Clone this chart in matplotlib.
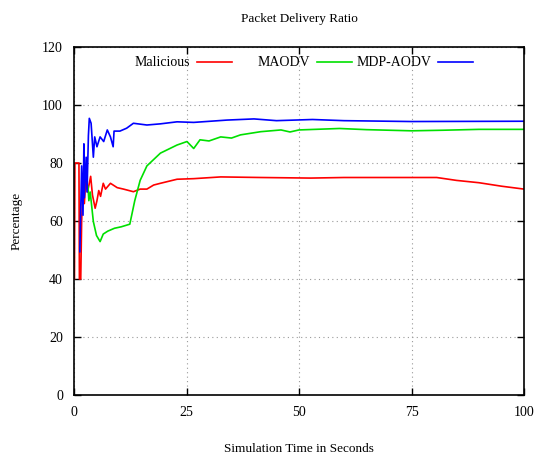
import matplotlib.pyplot as plt
from matplotlib.lines import Line2D

plt.rcParams['font.family'] = ['Liberation Serif', 'DejaVu Serif']

# Malicious (red)
t_mal = [0.1, 0.2, 1.1, 1.2, 1.5, 1.7, 2.0, 2.3, 2.6, 3.0, 3.4, 3.7, 4.1, 4.7, 5.1, 5.5, 5.9, 6.5,
         7.0, 8.1, 9.6, 11.0, 13.2, 14.7, 16.2, 17.7, 19.2, 22.9, 26.6, 32.6, 41.5, 52.6, 60,
         70, 80.6, 85, 90, 95, 100]
v_mal = [40, 80, 80, 40, 40, 60, 72, 66, 74, 70, 73, 75.4, 69, 64.4, 67, 70.5, 68.5, 73,
         71, 73, 71.5, 71, 70.1, 71, 71, 72.4, 73, 74.4, 74.6, 75.2, 75.0, 74.8, 75,
         75, 75, 74, 73.2, 72, 71]

# MAODV (green)
t_maodv = [3.1, 3.3, 3.6, 4.3, 5.0, 5.8, 6.5, 7.5, 9, 10.5, 12.4, 13.5, 14.7, 16.2, 19.2, 22.9,
           25.1, 26.6, 28, 30, 32.6, 35, 37, 41.5, 46, 48, 50, 59, 65, 75, 82, 90, 100]
v_maodv = [72, 67, 70, 59.8, 55, 52.9, 55.5, 56.5, 57.5, 58, 58.9, 67, 74, 79, 83.4, 86.2,
           87.4, 85, 88, 87.6, 89, 88.6, 89.7, 90.8, 91.4, 90.7, 91.4, 91.9, 91.5, 91.1, 91.3, 91.6, 91.6]

# MDP-AODV (blue)
t_mdp = [1.3, 1.7, 2.0, 2.2, 2.3, 2.7, 2.9, 3.2, 3.4, 3.8, 4.3, 4.6, 5.1, 5.8, 6.6, 7.4, 8.1,
         8.7, 8.9, 10.2, 11.7, 13.2, 16.2, 19.2, 22.9, 26.6, 34, 40, 45, 53, 60, 75, 100]
v_mdp = [49.4, 79, 62, 86.6, 68, 82, 70, 89.4, 95.4, 93.7, 82, 89, 85.6, 89, 87.4, 91.4, 89,
         85.6, 91, 91, 92, 93.7, 93.1, 93.5, 94.2, 94, 94.8, 95.2, 94.6, 95, 94.6, 94.3, 94.4]

xticks = [0, 25, 50, 75, 100]
yticks = [0, 20, 40, 60, 80, 100, 120]

W, H = 534, 454
fig = plt.figure(figsize=(W / 100, H / 100), dpi=100)
ax = fig.add_axes([74 / W, 1 - 395 / H, 450 / W, 348 / H])

series = [
    (t_mal, v_mal, '#ff0000', 'Malicious', 232),
    (t_maodv, v_maodv, '#00e000', 'MAODV', 352),
    (t_mdp, v_mdp, '#0000ff', 'MDP-AODV', 473),
]
for t, v, c, name, _ in series:
    ax.plot(t, v, color=c, lw=1.2)

ax.set_xlim(0, 100)
ax.set_ylim(0, 120)
ax.set_xticks(xticks)
ax.set_yticks(yticks)
ax.tick_params(direction='in', top=True, right=True, length=5, width=1, labelsize=10, pad=8)
ax.grid(True, linestyle=(0, (1, 3)), color='#999999', lw=0.8)
for s in ax.spines.values():
    s.set_linewidth(1.2)

ax.set_xlabel('Simulation Time in Seconds', fontsize=9.5, labelpad=17)
ax.set_ylabel('Percentage', fontsize=9.5, labelpad=14)
ax.set_title('Packet Delivery Ratio', fontsize=9.5, pad=18)

# gnuplot-like key: label then sample, one entry each
for t, v, c, name, xr in series:
    leg = ax.legend([Line2D([], [], color=c, lw=1.2)], [name], loc='center right',
                    bbox_to_anchor=(xr / W, 1 - 63 / H), bbox_transform=fig.transFigure,
                    frameon=False, markerfirst=False, fontsize=10, handlelength=2.5,
                    handletextpad=0.5, borderpad=0, borderaxespad=0)
    ax.add_artist(leg)
ax.legend_ = None

fig.savefig('out.png', dpi=100)
